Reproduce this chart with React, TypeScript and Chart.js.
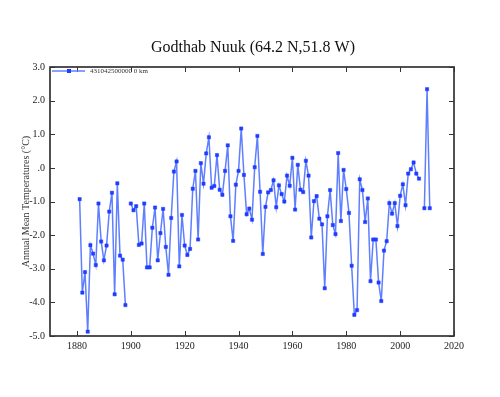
import React, { useEffect, useRef } from "react";
import { Chart, registerables } from "chart.js";

Chart.register(...registerables);

const years: number[] = [];
for (let y = 1881; y <= 2011; y++) years.push(y);

const temps: (number | null)[] = [
  -0.93, -3.71, -3.10, -4.87, -2.30, -2.55, -2.89, -1.06, -2.19, -2.75,
  -2.31, -1.30, -0.74, -3.76, -0.46, -2.61, -2.73, -4.08, null,
  -1.06, -1.26, -1.14, -2.29, -2.25, -1.06, -2.96, -2.96, -1.78, -1.18,
  -2.75, -1.94, -1.22, -2.35, -3.18, -1.49, -0.11, 0.19, -2.93, -1.40,
  -2.31, -2.59, -2.41, -0.62, -0.09, -2.13, 0.14, -0.47, 0.43, 0.91,
  -0.59, -0.54, 0.38, -0.65, -0.80, -0.09, 0.67, -1.44, -2.17, -0.50,
  -0.09, 1.17, -0.21, -1.38, -1.21, -1.54, 0.02, 0.95, -0.71, -2.56,
  -1.16, -0.73, -0.66, -0.37, -1.17, -0.52, -0.78, -1.00, -0.23, -0.53,
  0.30, -1.24, 0.09, -0.65, -0.72, 0.21, -0.23, -2.07, -0.99, -0.84,
  -1.51, -1.68, -3.58, -1.44, -0.66, -1.70, -1.97, 0.44, -1.58, -0.06,
  -0.63, -1.34, -2.91, -4.37, -4.23, -0.34, -0.66, -1.61, -0.91, -3.37,
  -2.13, -2.13, -3.41, -3.96, -2.46, -2.18, -1.05, -1.36, -1.05, -1.73,
  -0.83, -0.49, -1.11, -0.17, -0.04, 0.16, -0.17, -0.32, null,
  -1.20, 2.34, -1.20,
];

const xTicks = [1880, 1900, 1920, 1940, 1960, 1980, 2000, 2020];
const yTicks = [-5, -4, -3, -2, -1, 0, 1, 2, 3];

const titleText = "Godthab Nuuk (64.2 N,51.8 W)";
const yTitle = "Annual Mean Temperatures (°C)";
const legendText = "431042500000 0 km";

const LINE_COLOR = "#5f7fff";
const POINT_COLOR = "#1f3cff";
const SERIF = "'Liberation Serif', 'DejaVu Serif', serif";

const framePlugin = {
  id: "frameTicks",
  afterDraw(chart: any) {
    const ctx = chart.ctx;
    const { left, right, top, bottom } = chart.chartArea;
    const xs = chart.scales.x;
    const ys = chart.scales.y;
    ctx.save();
    // title
    ctx.fillStyle = "#111";
    ctx.font = `16px ${SERIF}`;
    ctx.textAlign = "center";
    ctx.textBaseline = "middle";
    ctx.fillText(titleText, 253, 48);
    ctx.textAlign = "left";
    // frame
    ctx.strokeStyle = "#333";
    ctx.lineWidth = 1.7;
    ctx.strokeRect(left, top, right - left, bottom - top);
    ctx.lineWidth = 1;
    ctx.beginPath();
    xTicks.forEach((v) => {
      const px = Math.round(xs.getPixelForValue(v)) + 0.5;
      ctx.moveTo(px, bottom);
      ctx.lineTo(px, bottom - 5);
      ctx.moveTo(px, top);
      ctx.lineTo(px, top + 5);
    });
    yTicks.forEach((v) => {
      const py = Math.round(ys.getPixelForValue(v)) + 0.5;
      ctx.moveTo(left, py);
      ctx.lineTo(left + 5, py);
      ctx.moveTo(right, py);
      ctx.lineTo(right - 5, py);
    });
    ctx.stroke();
    // legend
    const ly = top + 4;
    ctx.strokeStyle = LINE_COLOR;
    ctx.lineWidth = 1.5;
    ctx.beginPath();
    ctx.moveTo(left + 2, ly);
    ctx.lineTo(left + 35, ly);
    ctx.stroke();
    ctx.fillStyle = POINT_COLOR;
    ctx.fillRect(left + 17, ly - 2, 4, 4);
    ctx.fillStyle = "#333";
    ctx.font = `7px ${SERIF}`;
    ctx.textBaseline = "middle";
    ctx.fillText(legendText, left + 40, ly);
    ctx.restore();
  },
};

export default function App() {
  const ref = useRef<HTMLCanvasElement | null>(null);
  useEffect(() => {
    document.body.style.margin = "0";
    if (!ref.current) return;
    const points = years.map((y, i) => ({ x: y, y: temps[i] }));
    const chart = new Chart(ref.current, {
      type: "line",
      data: {
        datasets: [
          {
            label: legendText,
            data: points as any,
            borderColor: LINE_COLOR,
            borderWidth: 1.5,
            pointStyle: "rect",
            pointRadius: 2.3,
            pointBackgroundColor: POINT_COLOR,
            pointBorderColor: POINT_COLOR,
            pointBorderWidth: 0.5,
            spanGaps: false,
            tension: 0,
          },
        ],
      },
      options: {
        animation: false,
        responsive: false,
        layout: { padding: { left: 0, right: 46, top: 67, bottom: 0 } },
        plugins: {
          legend: { display: false },
          tooltip: { enabled: false },
          title: { display: false },
        },
        scales: {
          x: {
            type: "linear",
            min: 1870,
            max: 2020,
            afterBuildTicks: (s: any) => {
              s.ticks = xTicks.map((v) => ({ value: v }));
            },
            afterFit: (s: any) => {
              s.height = 61;
            },
            grid: { display: false, drawTicks: false },
            border: { display: false },
            ticks: {
              color: "#222",
              font: { family: SERIF, size: 10 },
              padding: 4,
              maxRotation: 0,
              autoSkip: false,
              callback: (v: any) => String(v),
            },
          },
          y: {
            type: "linear",
            min: -5,
            max: 3,
            afterBuildTicks: (s: any) => {
              s.ticks = yTicks.map((v) => ({ value: v }));
            },
            afterFit: (s: any) => {
              s.width = 50;
            },
            grid: { display: false, drawTicks: false },
            border: { display: false },
            ticks: {
              color: "#222",
              font: { family: SERIF, size: 10 },
              padding: 5,
              autoSkip: false,
              callback: (v: any) => (Number(v) === 0 ? ".0" : Number(v).toFixed(1)),
            },
            title: {
              display: true,
              text: yTitle,
              color: "#333",
              font: { family: SERIF, size: 10 },
              padding: { top: 20, bottom: 0 },
            },
          },
        },
      },
      plugins: [framePlugin],
    });
    return () => chart.destroy();
  }, []);
  return (
    <div style={{ width: 500, height: 397, background: "#fff" }}>
      <canvas ref={ref} width={500} height={397} style={{ display: "block" }} />
    </div>
  );
}
